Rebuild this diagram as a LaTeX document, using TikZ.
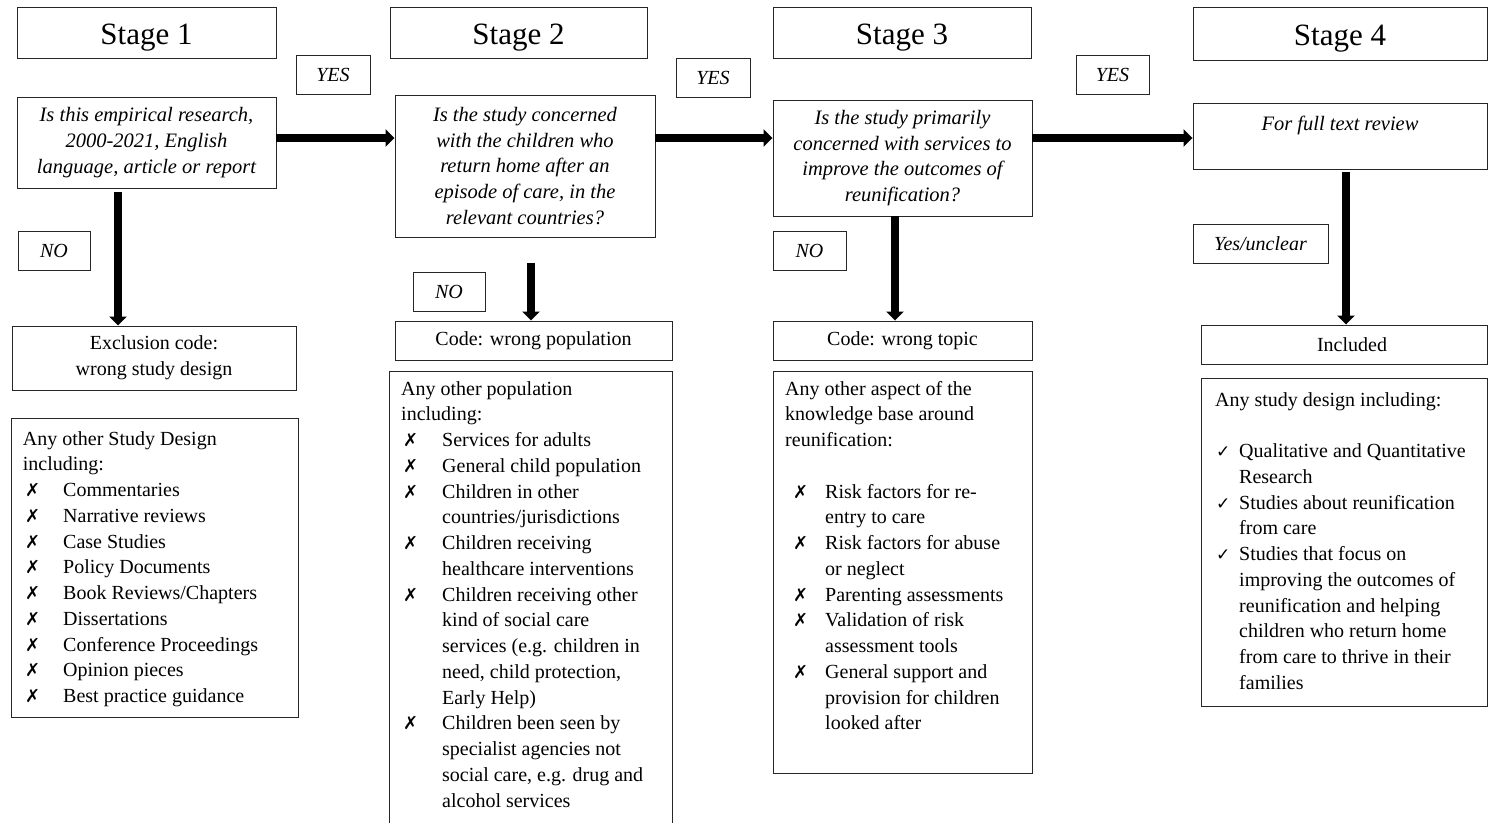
\documentclass[tikz,border=0pt]{standalone}
\usepackage{fontspec}
\setmainfont{Liberation Serif}
\newfontfamily\symf{DejaVu Sans}
\usetikzlibrary{arrows.meta,calc}
\newcommand{\bodyfnt}{\fontsize{20}{25.75}\selectfont}
\newcommand{\xmk}[2]{\hspace*{#1}\makebox[#2][l]{\symf\fontsize{18}{18}\selectfont ✗}}
\newcommand{\ckm}{\hspace*{1pt}\makebox[23pt][l]{\symf\fontsize{17}{17}\selectfont ✓}}
\tikzset{
  box/.style={draw=black!85, line width=0.95pt, rectangle, inner sep=0pt, align=center},
  stagebox/.style={box, font=\fontsize{31}{36}\selectfont, text height=25pt, text depth=2pt},
  qbox/.style={box, font=\fontsize{20.5}{25.75}\selectfont\itshape},
  lblbox/.style={box, font=\fontsize{20}{25.75}\selectfont\itshape},
  codebox/.style={box, font=\fontsize{20}{25.75}\selectfont},
  listbox/.style={draw=black!85, line width=0.95pt, rectangle, inner sep=0pt},
  listtext/.style={anchor=base west, inner sep=0pt},
  bigarrow/.style={line width=8.5pt, -{Triangle[width=17pt,length=9pt]}}
}
\begin{document}
\begin{tikzpicture}[x=1pt,y=-1pt]
\useasboundingbox (0,0) rectangle (1488,822);
% Stage headers
\node[stagebox, minimum width=259pt, minimum height=51pt] (s1) at (146.5,32.5) {Stage 1};
\node[stagebox, minimum width=257pt, minimum height=51pt] (s2) at (518.5,32.5) {Stage 2};
\node[stagebox, minimum width=258pt, minimum height=51pt] (s3) at (902,32.5) {Stage 3};
\node[stagebox, minimum width=294pt, minimum height=53pt] (s4) at (1340,33.5) {Stage 4};
% Questions
\node[qbox, minimum width=259pt, minimum height=91pt] (q1) at (146.5,142.5)
  {Is this empirical research,\\2000-2021, English\\language, article or report};
\node[qbox, minimum width=260pt, minimum height=142pt] (q2) at (525,166)
  {Is the study concerned\\with the children who\\return home after an\\episode of care, in the\\relevant countries?};
\node[qbox, minimum width=259pt, minimum height=116pt] (q3) at (902.5,158)
  {Is the study primarily\\concerned with services to\\improve the outcomes of\\reunification?};
\node[qbox, minimum width=294pt, minimum height=66pt] (q4) at (1340,136)
  {For full text review\\\mbox{}};
% YES / NO labels
\node[lblbox, minimum width=74pt, minimum height=39pt] (yes1) at (333,74.5) {YES};
\node[lblbox, minimum width=74pt, minimum height=39pt] (yes2) at (713,77.5) {YES};
\node[lblbox, minimum width=73pt, minimum height=39pt] (yes3) at (1112.5,74.5) {YES};
\node[lblbox, minimum width=72pt, minimum height=39pt] (no1) at (54,250.5) {NO};
\node[lblbox, minimum width=72pt, minimum height=39pt] (no2) at (449,291.5) {NO};
\node[lblbox, minimum width=73pt, minimum height=39pt] (no3) at (809.5,250.5) {NO};
\node[lblbox, minimum width=135pt, minimum height=39pt] (yu) at (1260.5,243.5) {Yes/unclear};
% Code boxes
\node[codebox, minimum width=284pt, minimum height=64pt] (ex1) at (154,358) {Exclusion code:\\wrong study design};
\node[codebox, minimum width=277pt, minimum height=39pt] (c2) at (533.5,340.5) {Code: wrong population};
\node[codebox, minimum width=259pt, minimum height=39pt] (c3) at (902.5,340.5) {Code: wrong topic};
\node[codebox, minimum width=286pt, minimum height=39pt] (inc) at (1344,344.5) {\hspace*{16pt}Included};
% List boxes
\node[listbox, minimum width=287pt, minimum height=299pt] (l1) at (154.5,567.5) {};
\node[listbox, minimum width=283pt, minimum height=464pt] (l2) at (530.5,603) {};
\node[listbox, minimum width=259pt, minimum height=402pt] (l3) at (902.5,572) {};
\node[listbox, minimum width=286pt, minimum height=328pt] (l4) at (1344,542) {};
% List texts
\node[listtext] (t1) at (22.7,445) {\parbox[t]{280pt}{\bodyfnt\raggedright
Any other Study Design\\
including:\\
\xmk{2.3pt}{38pt}Commentaries\\
\xmk{2.3pt}{38pt}Narrative reviews\\
\xmk{2.3pt}{38pt}Case Studies\\
\xmk{2.3pt}{38pt}Policy Documents\\
\xmk{2.3pt}{38pt}Book Reviews/Chapters\\
\xmk{2.3pt}{38pt}Dissertations\\
\xmk{2.3pt}{38pt}Conference Proceedings\\
\xmk{2.3pt}{38pt}Opinion pieces\\
\xmk{2.3pt}{38pt}Best practice guidance}};
\node[listtext] (t2) at (401,395) {\parbox[t]{280pt}{\bodyfnt\raggedright
Any other population\\
including:\\
\xmk{2pt}{39pt}Services for adults\\
\xmk{2pt}{39pt}General child population\\
\xmk{2pt}{39pt}Children in other\\
\hspace*{41pt}countries/jurisdictions\\
\xmk{2pt}{39pt}Children receiving\\
\hspace*{41pt}healthcare interventions\\
\xmk{2pt}{39pt}Children receiving other\\
\hspace*{41pt}kind of social care\\
\hspace*{41pt}services (e.g. children in\\
\hspace*{41pt}need, child protection,\\
\hspace*{41pt}Early Help)\\
\xmk{2pt}{39pt}Children been seen by\\
\hspace*{41pt}specialist agencies not\\
\hspace*{41pt}social care, e.g. drug and\\
\hspace*{41pt}alcohol services}};
\node[listtext] (t3) at (785,395) {\parbox[t]{280pt}{\bodyfnt\raggedright
Any other aspect of the\\
knowledge base around\\
reunification:\\
\mbox{}\\
\xmk{8pt}{32pt}Risk factors for re-\\
\hspace*{40pt}entry to care\\
\xmk{8pt}{32pt}Risk factors for abuse\\
\hspace*{40pt}or neglect\\
\xmk{8pt}{32pt}Parenting assessments\\
\xmk{8pt}{32pt}Validation of risk\\
\hspace*{40pt}assessment tools\\
\xmk{8pt}{32pt}General support and\\
\hspace*{40pt}provision for children\\
\hspace*{40pt}looked after}};
\node[listtext] (t4) at (1215,406) {\parbox[t]{280pt}{\bodyfnt\raggedright
Any study design including:\\
\mbox{}\\
\ckm Qualitative and Quantitative\\
\hspace*{24pt}Research\\
\ckm Studies about reunification\\
\hspace*{24pt}from care\\
\ckm Studies that focus on\\
\hspace*{24pt}improving the outcomes of\\
\hspace*{24pt}reunification and helping\\
\hspace*{24pt}children who return home\\
\hspace*{24pt}from care to thrive in their\\
\hspace*{24pt}families}};
% Connectors
\coordinate (ah) at (0,138);
\coordinate (v1) at (118,0);
\coordinate (v2) at (531,0);
\coordinate (v3) at (895,0);
\coordinate (v4) at (1346,0);
\draw[bigarrow] (q1.east |- ah) -- (q2.west |- ah);
\draw[bigarrow] (q2.east |- ah) -- (q3.west |- ah);
\draw[bigarrow] (q3.east |- ah) -- (q4.west |- ah);
\draw[bigarrow, shorten <=4pt] (v1 |- q1.south) -- (v1 |- ex1.north);
\draw[bigarrow, shorten <=26pt] (v2 |- q2.south) -- (v2 |- c2.north);
\draw[bigarrow] (v3 |- q3.south) -- (v3 |- c3.north);
\draw[bigarrow, shorten <=3pt] (v4 |- q4.south) -- (v4 |- inc.north);
\end{tikzpicture}
\end{document}
